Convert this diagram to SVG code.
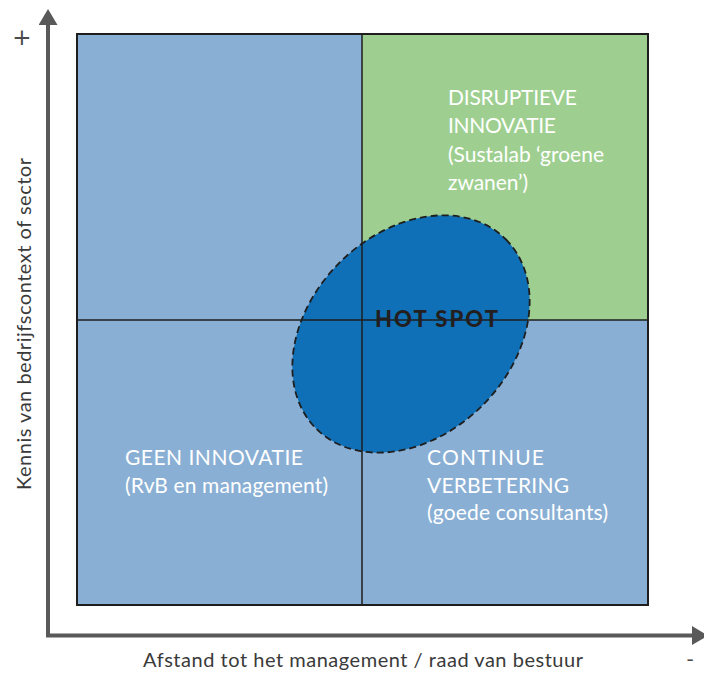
<svg xmlns="http://www.w3.org/2000/svg" width="704" height="673" viewBox="0 0 704 673">
  <style>
    .quad-blue { fill: #8aafd4; }
    .quad-green { fill: #9ecf90; }
    .divider { stroke: #1e1e1e; stroke-width: 1.5; fill: none; }
    .frame { stroke: #1e1e1e; stroke-width: 2; fill: none; }
    .axis { stroke: #595959; stroke-width: 4; fill: none; }
    .label { font-family: Lato, "Open Sans", sans-serif; font-size: 21px; fill: #ffffff; }
    .axis-label { font-family: Lato, "Open Sans", sans-serif; font-size: 20px; fill: #3a3a3a; }
    .sign { font-family: "DejaVu Sans", sans-serif; fill: #4a4a4a; }
    .hot { font-family: Lato, "Open Sans", sans-serif; font-size: 22px; font-weight: 900; fill: #231f20; }
  </style>
  <defs>
    <marker id="arrow" viewBox="0 0 16 19" refX="1" refY="9.5" markerWidth="16" markerHeight="19" orient="auto" markerUnits="userSpaceOnUse">
      <path d="M0,0 L16,9.5 L0,19 Z" fill="#595959"/>
    </marker>
  </defs>

  <!-- quadrants -->
  <g id="quadrants">
    <rect id="q-top-left" class="quad-blue" x="77" y="34" width="285" height="286"/>
    <rect id="q-top-right" class="quad-green" x="362" y="34" width="286" height="286"/>
    <rect id="q-bottom-left" class="quad-blue" x="77" y="320" width="285" height="285"/>
    <rect id="q-bottom-right" class="quad-blue" x="362" y="320" width="286" height="285"/>
  </g>

  <!-- hot spot -->
  <g id="hotspot">
    <ellipse cx="411" cy="334" rx="134" ry="101" transform="rotate(-45 411 334)" fill="#0f70b7" stroke="#1e1e1e" stroke-width="1.8" stroke-dasharray="7 4"/>
  </g>

  <!-- grid lines -->
  <g id="grid">
    <line class="divider" x1="362" y1="34" x2="362" y2="605"/>
    <line class="divider" x1="77" y1="320" x2="648" y2="320"/>
    <rect class="frame" x="77" y="34" width="571" height="571"/>
  </g>

  <!-- axes -->
  <g id="connectors">
    <line class="axis" x1="48" y1="637" x2="48" y2="24" marker-end="url(#arrow)"/>
    <line class="axis" x1="46" y1="635.5" x2="693" y2="635.5" marker-end="url(#arrow)"/>
  </g>

  <g id="hot-label">
    <text class="hot" x="375" y="327" textLength="123">HOT SPOT</text>
  </g>

  <g id="disruptive">
    <text class="label" x="448" y="105" textLength="129">DISRUPTIEVE</text>
    <text class="label" x="448" y="133" textLength="108">INNOVATIE</text>
    <text class="label" x="448" y="162" textLength="156">(Sustalab ‘groene</text>
    <text class="label" x="448" y="190" textLength="80">zwanen’)</text>
  </g>

  <g id="geen">
    <text class="label" x="125" y="465" textLength="178">GEEN INNOVATIE</text>
    <text class="label" x="125" y="493" textLength="203">(RvB en management)</text>
  </g>

  <g id="continue">
    <text class="label" x="427" y="465" textLength="117">CONTINUE</text>
    <text class="label" x="427" y="493" textLength="142">VERBETERING</text>
    <text class="label" x="427" y="520" textLength="181">(goede consultants)</text>
  </g>

  <g id="axis-labels">
    <text class="axis-label" x="0" y="0" transform="translate(31 490) rotate(-90)" textLength="332">Kennis van bedrijfscontext of sector</text>
    <text class="axis-label" x="143" y="667" textLength="440">Afstand tot het management / raad van bestuur</text>
    <text class="sign" x="22" y="45" text-anchor="middle" font-size="23">+</text>
    <text class="sign" x="690" y="666" text-anchor="middle" font-size="20">-</text>
  </g>
</svg>
